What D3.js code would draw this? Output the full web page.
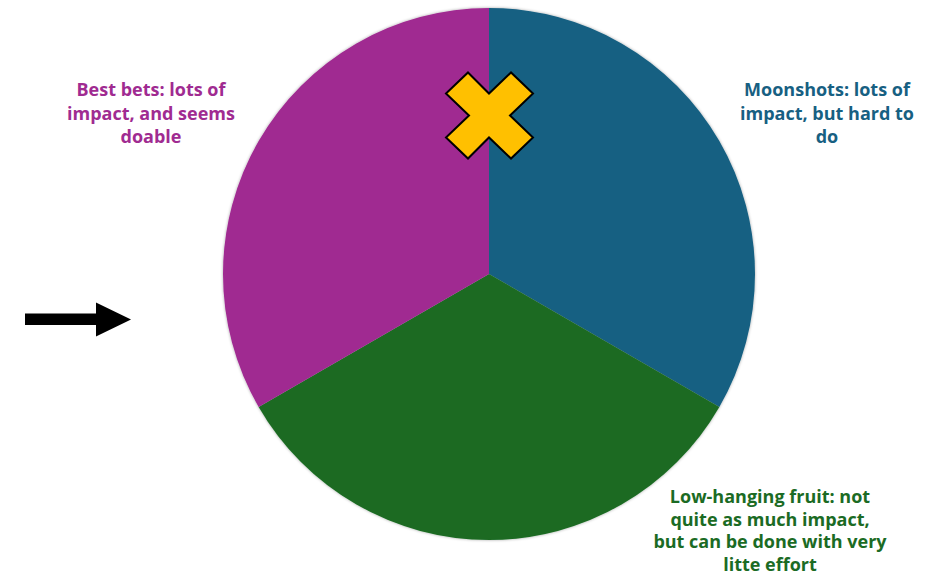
<!DOCTYPE html>
<html>
<head>
<meta charset="utf-8">
<script src="https://cdn.jsdelivr.net/npm/d3@7"></script>
<style>
  body { margin: 0; background: #fff; }
  svg { display: block; }
  .label { font-family: "Open Sans", sans-serif; font-weight: 700; font-size: 18px; }
</style>
</head>
<body>
<div id="chart"></div>
<script>
// slices, clockwise from 12 o'clock
var categories = ["Moonshots", "Low-hanging fruit", "Best bets"];
var values = [1, 1, 1];
var colors = ["#176082", "#1B6B24", "#A02B91"];
var labelLines = [
	["Moonshots: lots of", "impact, but hard to", "do"],
	["Low-hanging fruit: not", "quite as much impact,", "but can be done with very", "litte effort"],
	["Best bets: lots of", "impact, and seems", "doable"]
];
var labelPos = [[827, 96], [770, 503], [151, 96]];

var width = 938, height = 579;
var cx = 489, cy = 274, radius = 266;

var svg = d3.select("#chart").append("svg")
	.attr("width", width)
	.attr("height", height);

var defs = svg.append("defs");
var blur = defs.append("filter").attr("id", "soft")
	.attr("x", "-5%").attr("y", "-5%").attr("width", "110%").attr("height", "110%");
blur.append("feDropShadow")
	.attr("dx", 0).attr("dy", 0)
	.attr("stdDeviation", 1.5)
	.attr("flood-color", "#000")
	.attr("flood-opacity", 0.35);

var pie = d3.pie().sort(null).value(function(d){ return d; });
var arc = d3.arc().innerRadius(0).outerRadius(radius);

var pieG = svg.append("g")
	.attr("transform", "translate(" + cx + "," + cy + ")")
	.attr("filter", "url(#soft)");

pieG.selectAll("path").data(pie(values)).enter()
	.append("path")
	.attr("d", arc)
	.attr("fill", function(d, i){ return colors[i]; });

// labels
labelLines.forEach(function(lines, i){
	var t = svg.append("text")
		.attr("class", "label")
		.attr("text-anchor", "middle")
		.attr("fill", colors[i]);
	lines.forEach(function(line, j){
		t.append("tspan")
			.attr("x", labelPos[i][0])
			.attr("y", labelPos[i][1] + j * (i == 1 ? 22.5 : 23.5))
			.text(line);
	});
});

// yellow cross marker
var crossX = 489, crossY = 115.5;
var crossPts = [[-21,-43],[0,-22],[22,-43],[44,-22],[21,0],[44,22],[22,43],[0,22],[-21,43],[-43,22],[-20,0],[-43,-22]];
svg.append("polygon")
	.attr("points", crossPts.map(function(p){ return (crossX + p[0]) + "," + (crossY + p[1]); }).join(" "))
	.attr("fill", "#FFC000")
	.attr("stroke", "#000")
	.attr("stroke-width", 2)
	.attr("stroke-linejoin", "miter");

// arrow pointing at the pie
var arrow = svg.append("g");
arrow.append("rect")
	.attr("x", 25).attr("y", 313.5)
	.attr("width", 72).attr("height", 11.5)
	.attr("fill", "#000");
arrow.append("polygon")
	.attr("points", "96,302.5 131,319.5 96,336.5")
	.attr("fill", "#000");
</script>
</body>
</html>
